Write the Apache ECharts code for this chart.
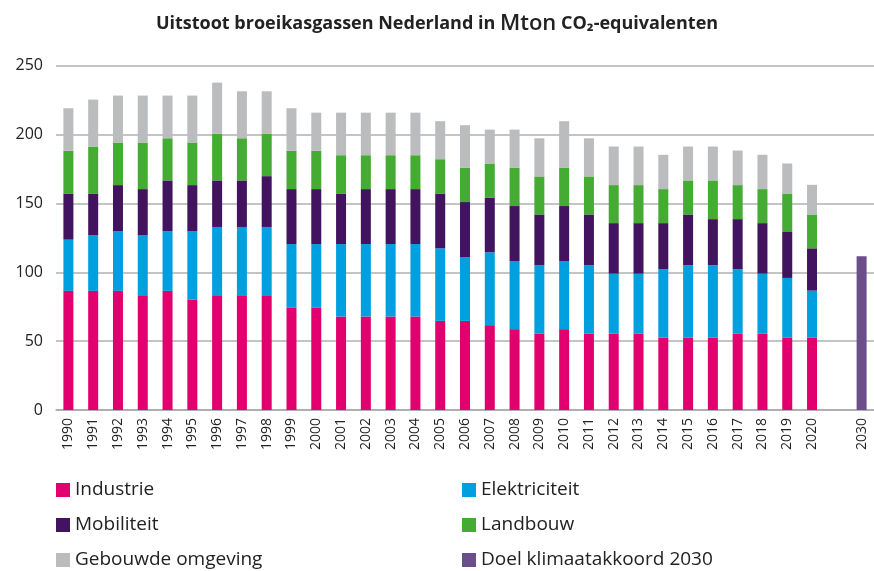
<!DOCTYPE html>
<html>
<head>
<meta charset="utf-8">
<script src="https://cdn.jsdelivr.net/npm/echarts@6/dist/echarts.min.js"></script>
<style>
  html, body { margin: 0; padding: 0; background: #fff; }
  #chart { width: 874px; height: 571px; }
</style>
</head>
<body>
<div id="chart"></div>
<script>
// categories (an empty slot sits between 2020 and 2030)
const years = ["1990", "1991", "1992", "1993", "1994", "1995", "1996", "1997", "1998", "1999",
  "2000", "2001", "2002", "2003", "2004", "2005", "2006", "2007", "2008", "2009",
  "2010", "2011", "2012", "2013", "2014", "2015", "2016", "2017", "2018", "2019", "2020", "", "2030"];

// Mton CO2-eq per sector, 1990-2020
const industrie = [86.5, 86.5, 86.5, 83.3, 86.5, 80.2, 83.3, 83.3, 83.3, 74.2, 74.2, 67.9, 67.9, 67.9, 67.9,
  64.7, 64.7, 61.6, 58.7, 55.6, 58.7, 55.6, 55.6, 55.6, 52.7, 52.7, 52.7, 55.6, 55.6, 52.7, 52.7];
const elektriciteit = [37.2, 40.3, 43.2, 43.5, 43.2, 49.5, 49.6, 49.6, 49.6, 46.3, 46.3, 52.6, 52.6, 52.6, 52.6,
  52.7, 46.4, 52.9, 49.5, 49.5, 49.5, 49.5, 43.4, 43.4, 49.5, 52.4, 52.4, 46.6, 43.4, 43.2, 34.0];
const mobiliteit = [33.5, 30.4, 33.6, 33.6, 37.0, 33.6, 33.8, 33.8, 36.9, 39.9, 39.9, 36.7, 39.9, 39.9, 39.9,
  39.8, 39.9, 39.8, 39.9, 36.9, 39.9, 36.9, 36.7, 36.7, 33.5, 36.9, 33.5, 36.4, 36.7, 33.8, 30.7];
const landbouw = [31.0, 34.1, 30.9, 33.8, 30.6, 30.9, 33.8, 30.6, 30.7, 27.8, 27.8, 27.8, 24.6, 24.6, 24.6,
  24.9, 24.8, 24.7, 27.7, 27.6, 27.7, 27.6, 27.6, 27.6, 24.7, 24.7, 28.1, 24.7, 24.7, 27.5, 24.6];
const gebouwd = [30.9, 34.1, 34.1, 34.1, 31.0, 34.1, 37.2, 34.1, 30.9, 30.9, 27.7, 30.9, 30.9, 30.9, 30.9,
  27.6, 31.0, 24.6, 27.8, 27.7, 33.9, 27.7, 28.0, 28.0, 24.9, 24.6, 24.6, 25.1, 24.9, 21.8, 21.5];
const doel2030 = 111.6;

const yTicks = { min: 0, max: 250, interval: 50 };

const chart = echarts.init(document.getElementById("chart"));

// pad a 1990-2020 list with empty values for the gap and 2030
const pad = (arr) => arr.concat([null, null]);
const doelData = years.map((y) => (y === "2030" ? doel2030 : null));

const font = "'Open Sans', sans-serif";

function bar(name, data, color) {
  return {
    name: name,
    type: "bar",
    stack: "totaal",
    barWidth: 10,
    data: data,
    itemStyle: { color: color },
    animation: false,
  };
}

const legendText = { fontFamily: font, fontSize: 19, color: "#222", lineHeight: 20 };
const legendBase = {
  orient: "vertical",
  top: 480,
  height: 120,
  padding: 0,
  itemWidth: 14,
  itemHeight: 14,
  itemGap: 15,
  icon: "rect",
  textStyle: legendText,
};

chart.setOption({
  title: {
    text: "{b|Uitstoot broeikasgassen Nederland in }{m|Mton}{b| CO₂-equivalenten}",
    left: "center",
    top: 8,
    textStyle: {
      rich: {
        b: { fontFamily: font, fontSize: 18, fontWeight: "bold", color: "#222" },
        m: { fontFamily: font, fontSize: 22, fontWeight: 600, color: "#222" },
      },
    },
  },
  legend: [
    Object.assign({}, legendBase, {
      left: 56,
      data: ["Industrie", "Mobiliteit", "Gebouwde omgeving"],
    }),
    Object.assign({}, legendBase, {
      left: 462,
      data: ["Elektriciteit", "Landbouw", "Doel klimaatakkoord 2030"],
    }),
  ],
  grid: {
    left: 56,
    top: 65.7,
    width: 822,
    height: 344.3,
    containLabel: false,
  },
  xAxis: {
    type: "category",
    data: years,
    axisTick: { show: false },
    axisLine: { lineStyle: { color: "#a8a8a8", width: 1.5 } },
    axisLabel: {
      rotate: 90,
      interval: 0,
      margin: 8,
      fontFamily: font,
      fontSize: 14,
      color: "#222",
    },
  },
  yAxis: {
    type: "value",
    min: yTicks.min,
    max: yTicks.max,
    interval: yTicks.interval,
    axisLine: { show: false },
    axisTick: { show: false },
    axisLabel: { fontFamily: font, fontSize: 16, color: "#222", margin: 13 },
    splitLine: { lineStyle: { color: "#b0b0b0", width: 1.5 } },
  },
  series: [
    bar("Industrie", pad(industrie), "#e2006e"),
    bar("Elektriciteit", pad(elektriciteit), "#009fe0"),
    bar("Mobiliteit", pad(mobiliteit), "#42145f"),
    bar("Landbouw", pad(landbouw), "#44ab33"),
    bar("Gebouwde omgeving", pad(gebouwd), "#bbbcbe"),
    bar("Doel klimaatakkoord 2030", doelData, "#6b4f8a"),
  ],
});

window.addEventListener("resize", () => chart.resize());
</script>
</body>
</html>
